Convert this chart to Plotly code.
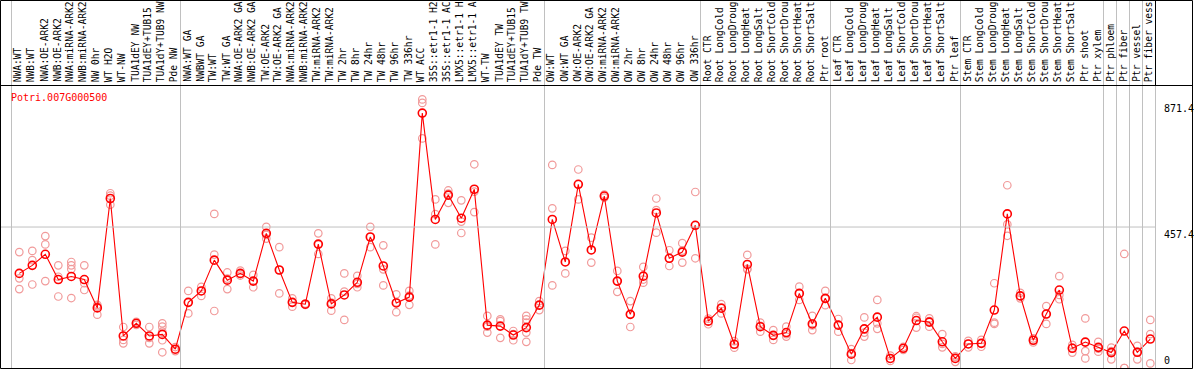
import plotly.graph_objects as go

# ---------------- data ----------------
title_text = "Potri.007G000500"

labels = [
    "NWA:WT", "NWB:WT", "NWA:OE-ARK2", "NWB:OE-ARK2", "NWA:miRNA-ARK2", "NWB:miRNA-ARK2",
    "NW 0hr", "WT H2O", "WT-NW", "TUA1dEY NW", "TUA1dEY+TUB15", "TUA1dY+TUB9 NW", "Pde NW",
    "NWA:WT GA", "NWBWT GA", "TW:WT", "TW:WT GA", "NWA:OE-ARK2 GA", "NWB:OE-ARK2 GA",
    "TW:OE-ARK2", "TW:OE-ARK2 GA", "NWA:miRNA-ARK2", "NWB:miRNA-ARK2", "TW:miRNA-ARK2",
    "TW:miRNA-ARK2", "TW 2hr", "TW 8hr", "TW 24hr", "TW 48hr", "TW 96hr", "TW 336hr",
    "WT ACC", "35S::etr1-1 H2", "35S::etr1-1 AC", "LMX5::etr1-1 H", "LMX5::etr1-1 A",
    "WT-TW", "TUA1dEY TW", "TUA1dEY+TUB15", "TUA1dY+TUB9 TW", "Pde TW",
    "OW:WT", "OW:WT GA", "OW:OE-ARK2", "OW:OE-ARK2 GA", "OW:miRNA-ARK2", "OW:miRNA-ARK2",
    "OW 2hr", "OW 8hr", "OW 24hr", "OW 48hr", "OW 96hr", "OW 336hr",
    "Root CTR", "Root LongCold", "Root LongDroug", "Root LongHeat", "Root LongSalt",
    "Root ShortCold", "Root ShortDrou", "Root ShortHeat", "Root ShortSalt", "Ptr root",
    "Leaf CTR", "Leaf LongCold", "Leaf LongDroug", "Leaf LongHeat", "Leaf LongSalt",
    "Leaf ShortCold", "Leaf ShortDrou", "Leaf ShortHeat", "Leaf ShortSalt", "Ptr leaf",
    "Stem CTR", "Stem LongCold", "Stem LongDroug", "Stem LongHeat", "Stem LongSalt",
    "Stem ShortCold", "Stem ShortDrou", "Stem ShortHeat", "Stem ShortSalt", "Ptr shoot",
    "Ptr xylem", "Ptr phloem", "Ptr fiber", "Ptr vessel", "Ptr fiber vess",
]

means = [
    307, 333, 369, 287, 297, 287, 195, 550, 104, 145, 104, 109, 61,
    213, 250, 350, 285, 307, 282, 437, 318, 213, 207, 402, 208, 237, 278, 425,
    331, 211, 230, 827, 482, 561, 486, 580, 139, 136, 107, 131, 204,
    482, 344, 596, 383, 558, 282, 174, 298, 503, 356, 376, 463,
    152, 194, 77, 336, 134, 106, 115, 242, 143, 226,
    139, 45, 127, 165, 31, 64, 154, 149, 85, 31,
    78, 80, 188, 500, 234, 90, 175, 253, 64, 84, 67,
    50, 120, 51, 94,
]

replicates = [
    [376, 291, 256], [380, 350, 271], [428, 401, 282], [333, 296, 232],
    [344, 333, 321, 227], [333, 275, 253], [205, 200, 173], [567, 559, 530],
    [133, 91, 80], [150, 145, 140], [133, 98, 80], [145, 134, 118, 90, 51],
    [68, 55, 60],
    [250, 213, 177], [263, 250, 234], [500, 368, 185], [310, 290, 256],
    [316, 305, 300], [302, 282, 262], [458, 432, 420], [392, 318, 242],
    [226, 213, 199], [209, 207, 205], [437, 400, 370], [226, 212, 186],
    [307, 248, 156], [299, 273, 262], [458, 425, 392], [398, 320, 268],
    [239, 213, 181], [250, 235, 205], [871.4, 860, 745], [547, 499, 401],
    [576, 566, 536], [544, 475, 438], [661, 572, 506], [169, 134, 115],
    [158, 152, 98], [120, 110, 90], [169, 158, 147, 115, 85], [217, 204, 188],
    [659, 518, 268], [380, 344, 307], [644, 596, 547], [423, 383, 342],
    [563, 558, 553], [315, 282, 247], [217, 174, 133], [328, 287, 277],
    [550, 512, 439], [382, 356, 331], [405, 381, 342], [571, 463, 356],
    [160, 152, 142], [207, 197, 177], [87, 77, 66], [367, 320, 322],
    [147, 137, 118], [123, 105, 91], [134, 110, 102], [264, 242, 221],
    [169, 138, 123], [250, 224, 204],
    [159, 140, 118], [61, 48, 26], [164, 115, 102], [221, 145, 127],
    [40, 30, 23], [69, 64, 59], [168, 163, 131], [161, 152, 134],
    [110, 78, 67], [38, 35, 20],
    [88, 78, 67], [91, 80, 69], [275, 147, 143], [593, 466, 429],
    [244, 234, 226], [96, 90, 83], [201, 175, 143], [298, 237, 223],
    [75, 66, 50], [161, 55, 31], [85, 63, 53],
    [66, 55, 28], [370, 0, 0], [72, 53, 28], [156, 110, 15],
]

group_starts = [0, 13, 41, 53, 63, 73, 84, 85, 86, 87, 88]
axis_max = 871.4
axis_mid = 457.4
axis_min = 0

# ---------------- layout geometry ----------------
W, H = 1194, 370
col_w = 13.0          # pixel width per column
first_px = 19.3       # pixel x of first column
plot_top_px, plot_bot_px = 86, 368
label_bot_px = 84
sep_off = 0.6

x0 = -first_px / col_w
x1 = x0 + W / col_w
top_val = axis_max * 1.05


def px_x(p):
    return p / W


def px_y(p):
    return 1 - p / H


idx = list(range(len(labels)))
red = "#ff0000"
pink = "#f19a9a"
grey = "#c0c0c0"
mono = "DejaVu Sans Mono"

fig = go.Figure()

# replicate points
rx, ry = [], []
for i, reps in enumerate(replicates):
    for v in reps:
        rx.append(i)
        ry.append(v)
fig.add_trace(go.Scatter(
    x=rx, y=ry, mode="markers",
    marker=dict(symbol="circle-open", size=7.5, color=pink, line=dict(width=1.2, color=pink)),
    hoverinfo="skip", showlegend=False,
))

# mean line + markers
fig.add_trace(go.Scatter(
    x=idx, y=means, mode="lines+markers",
    line=dict(color=red, width=1.1),
    marker=dict(symbol="circle-open", size=8, color=red, line=dict(width=1.6, color=red)),
    text=labels, hovertemplate="%{text}: %{y}<extra></extra>", showlegend=False,
))

shapes = []
# separators (grey, full height)
for k in group_starts:
    shapes.append(dict(type="line", xref="x", yref="paper",
                       x0=k - sep_off, x1=k - sep_off, y0=px_y(plot_bot_px), y1=px_y(0),
                       line=dict(color=grey, width=1)))
# right end of column area in label area is black
shapes.append(dict(type="line", xref="x", yref="paper",
                   x0=group_starts[-1] - sep_off, x1=group_starts[-1] - sep_off,
                   y0=px_y(85.5), y1=px_y(0), line=dict(color="black", width=1)))
# mid gridline
shapes.append(dict(type="line", xref="x", yref="y",
                   x0=x0 + 1 / col_w, x1=group_starts[-1] - sep_off,
                   y0=axis_mid, y1=axis_mid,
                   line=dict(color=grey, width=1)))
# header separator line
shapes.append(dict(type="line", xref="paper", yref="paper",
                   x0=px_x(0.5), x1=px_x(1192.5), y0=px_y(85.5), y1=px_y(85.5),
                   line=dict(color="black", width=1)))
# outer border
shapes.append(dict(type="rect", xref="paper", yref="paper",
                   x0=px_x(0.5), x1=px_x(1192.5), y0=px_y(368.5), y1=px_y(0.5),
                   line=dict(color="black", width=1), fillcolor="rgba(0,0,0,0)"))

annotations = []
for i, lab in enumerate(labels):
    annotations.append(dict(
        x=i, xref="x", y=px_y(label_bot_px), yref="paper",
        text=lab, textangle=-90, showarrow=False,
        xanchor="center", yanchor="bottom", xshift=-1.5,
        font=dict(family=mono, size=9.6, color="black"),
    ))

annotations.append(dict(x=px_x(9), xref="paper", y=px_y(97), yref="paper",
                        text=title_text, showarrow=False, xanchor="left", yanchor="middle",
                        font=dict(family=mono, size=10, color=red)))

annotations.append(dict(x=px_x(1162), xref="paper", y=axis_max, yref="y",
                        text=f"{axis_max}", showarrow=False, xanchor="left", yanchor="top",
                        yshift=-1.5, font=dict(family=mono, size=10, color="black")))
annotations.append(dict(x=px_x(1162), xref="paper", y=axis_mid, yref="y",
                        text=f"{axis_mid}", showarrow=False, xanchor="left", yanchor="top",
                        yshift=0, font=dict(family=mono, size=10, color="black")))
annotations.append(dict(x=px_x(1162), xref="paper", y=axis_min, yref="y",
                        text=f"{axis_min}", showarrow=False, xanchor="left", yanchor="bottom",
                        yshift=0, font=dict(family=mono, size=10, color="black")))

fig.update_layout(
    width=W, height=H,
    margin=dict(l=0, r=0, t=0, b=0, pad=0),
    paper_bgcolor="white", plot_bgcolor="rgba(0,0,0,0)",
    xaxis=dict(range=[x0, x1], domain=[0, 1], visible=False, fixedrange=True),
    yaxis=dict(range=[0, top_val], domain=[px_y(plot_bot_px), px_y(plot_top_px)],
               visible=False, fixedrange=True),
    shapes=shapes, annotations=annotations,
    showlegend=False,
)

fig.write_html("out.html", config={"displayModeBar": False},
               post_script="document.body.style.margin='0';document.body.style.padding='0';")
